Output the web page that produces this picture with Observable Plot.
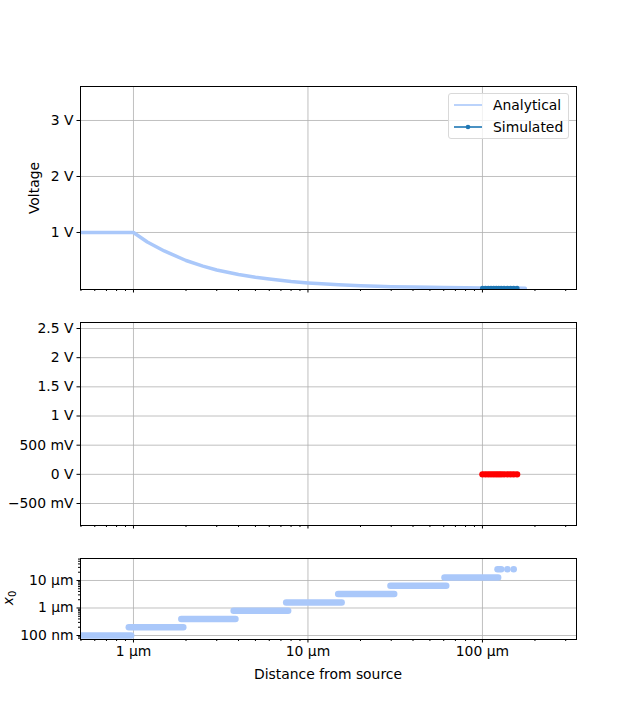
<!DOCTYPE html>
<html>
<head>
<meta charset="utf-8">
<script src="https://cdn.jsdelivr.net/npm/d3@7"></script>
<script src="https://cdn.jsdelivr.net/npm/@observablehq/plot@0.6"></script>
<style>
  body { margin: 0; background: white; }
  #root { position: relative; width: 640px; height: 718px; overflow: hidden; font-family: "DejaVu Sans", sans-serif; font-size: 13.9px; color: black; }
  .panel { position: absolute; left: 0; }
  .lbl { position: absolute; white-space: nowrap; font-size: 13.9px; }
</style>
</head>
<body>
<div id="root"></div>
<script>
// ---- data (x in µm) ----
const analyticX = [0.5, 0.6, 0.8, 1.0, 1.2, 1.5, 2, 2.5, 3, 4, 5, 6, 8, 10, 12, 15, 20, 25, 30, 40, 50, 60, 80, 100, 120, 150, 176];
const analyticV = [1, 1, 1, 1, 0.83, 0.67, 0.5, 0.4, 0.33, 0.25, 0.2, 0.17, 0.125, 0.1, 0.083, 0.067, 0.05, 0.04, 0.033, 0.025, 0.02, 0.017, 0.0125, 0.01, 0.008, 0.007, 0.006];
const simX = [100, 104, 108, 112, 116, 120, 124, 128, 133, 139, 145, 151, 158];
const simV = [0.003, 0.003, 0.003, 0.003, 0.003, 0.003, 0.003, 0.003, 0.003, 0.003, 0.003, 0.003, 0.003];
const errV = [0, 0, 0, 0, 0, 0, 0, 0, 0, 0, 0, 0, 0];
const stepStart = [0.45, 0.94, 1.88, 3.75, 7.5, 14.9, 29.7, 60.6, 122];
const stepEnd = [0.97, 1.93, 3.84, 7.7, 15.6, 31.2, 62, 123, 128];
const stepX0 = [0.1, 0.2, 0.4, 0.8, 1.6, 3.2, 6.4, 12.8, 25.6];
const lastX = [139, 151];
const lastX0 = [25.6, 25.6];

const xMajor = [1, 10, 100];
const xMajorLabels = ["1 µm", "10 µm", "100 µm"];
const xMinor = [0.5, 0.6, 0.7, 0.8, 0.9, 2, 3, 4, 5, 6, 7, 8, 9, 20, 30, 40, 50, 60, 70, 80, 90, 200, 300];
const v1Ticks = [1, 2, 3];
const v1Labels = ["1 V", "2 V", "3 V"];
const v2Ticks = [-0.5, 0, 0.5, 1, 1.5, 2, 2.5];
const v2Labels = ["\u2212500 mV", "0 V", "500 mV", "1 V", "1.5 V", "2 V", "2.5 V"];
const x0Ticks = [0.1, 1, 10];
const x0Labels = ["100 nm", "1 µm", "10 µm"];
const x0Minor = [0.08, 0.09, 0.2, 0.3, 0.4, 0.5, 0.6, 0.7, 0.8, 0.9, 2, 3, 4, 5, 6, 7, 8, 9, 20, 30, 40, 50, 60];

const analytic = analyticX.map((x, i) => ({x, v: analyticV[i]}));
const sim = simX.map((x, i) => ({x, v: simV[i]}));
const err = simX.map((x, i) => ({x, v: errV[i]}));
const steps = stepStart.map((s, i) => ({x1: s, x2: stepEnd[i], y: stepX0[i]}));
const lastPts = lastX.map((x, i) => ({x, y: lastX0[i]}));

const C_LIGHT = "#aac8fa", C_DARK = "#1f77b4", C_GRID = "#b0b0b0";
const xDomain = [0.497, 346];
const W = 640, ML = 80, MR = 64;
const root = document.getElementById("root");

function xAxes(withLabels) {
  return [
    Plot.axisX({ticks: xMinor, tickSize: 2, tickFormat: () => "", tickPadding: 0, label: null}),
    Plot.axisX({ticks: xMajor, tickSize: 3.5, tickPadding: 3.5, label: null,
      tickFormat: withLabels ? (d => xMajorLabels[xMajor.indexOf(d)]) : (() => ""), fontSize: 13.9})
  ];
}
function place(svg, top) {
  const wrap = document.createElement("div");
  wrap.className = "panel";
  wrap.style.top = top + "px";
  wrap.appendChild(svg);
  root.appendChild(wrap);
}
const common = {width: W, marginLeft: ML, marginRight: MR, style: {fontFamily: "DejaVu Sans, sans-serif", fontSize: "13.9px", overflow: "visible"}};

// ---- panel 1 ----
const p1 = Plot.plot({
  ...common, height: 310, marginTop: 86, marginBottom: 21,
  x: {type: "log", domain: xDomain, label: null},
  y: {domain: [-0.018, 3.607], label: null},
  marks: [
    Plot.gridX({ticks: xMajor, stroke: C_GRID, strokeOpacity: 1, strokeWidth: 0.8}),
    Plot.gridY({ticks: v1Ticks, stroke: C_GRID, strokeOpacity: 1, strokeWidth: 0.8}),
    Plot.line(analytic, {x: "x", y: "v", stroke: C_LIGHT, strokeWidth: 3.5, clip: true}),
    Plot.line(sim, {x: "x", y: "v", stroke: C_DARK, strokeWidth: 3.5, strokeLinecap: "round", clip: true}),
    Plot.dot(sim, {x: "x", y: "v", fill: C_DARK, r: 2.5, clip: true}),
    ...xAxes(false),
    Plot.axisY({ticks: v1Ticks, tickSize: 3.5, tickPadding: 3.5, label: null, tickFormat: d => v1Labels[v1Ticks.indexOf(d)], fontSize: 13.9}),
    Plot.frame({stroke: "black", strokeWidth: 1})
  ]
});
place(p1, 0);

// ---- panel 2 ----
const p2 = Plot.plot({
  ...common, height: 236, marginTop: 12, marginBottom: 21,
  x: {type: "log", domain: xDomain, label: null},
  y: {domain: [-0.877, 2.603], label: null},
  marks: [
    Plot.gridX({ticks: xMajor, stroke: C_GRID, strokeOpacity: 1, strokeWidth: 0.8}),
    Plot.gridY({ticks: v2Ticks, stroke: C_GRID, strokeOpacity: 1, strokeWidth: 0.8}),
    Plot.line(err, {x: "x", y: "v", stroke: "red", strokeWidth: 5, strokeLinecap: "round", clip: true}),
    Plot.dot(err, {x: "x", y: "v", fill: "red", r: 3.2, clip: true}),
    ...xAxes(false),
    Plot.axisY({ticks: v2Ticks, tickSize: 3.5, tickPadding: 3.5, label: null, tickFormat: d => v2Labels[v2Ticks.indexOf(d)], fontSize: 13.9}),
    Plot.frame({stroke: "black", strokeWidth: 1})
  ]
});
place(p2, 310);

// ---- panel 3 ----
const p3 = Plot.plot({
  ...common, height: 172, marginTop: 12, marginBottom: 79,
  x: {type: "log", domain: xDomain, label: null},
  y: {type: "log", domain: [0.0716, 63], label: null},
  marks: [
    Plot.gridX({ticks: xMajor, stroke: C_GRID, strokeOpacity: 1, strokeWidth: 0.8}),
    Plot.gridY({ticks: x0Ticks, stroke: C_GRID, strokeOpacity: 1, strokeWidth: 0.8}),
    Plot.link(steps, {x1: "x1", x2: "x2", y1: "y", y2: "y", stroke: C_LIGHT, strokeWidth: 6.5, strokeLinecap: "round", strokeOpacity: 1, clip: true}),
    Plot.dot(lastPts, {x: "x", y: "y", fill: C_LIGHT, r: 3.3, clip: true}),
    ...xAxes(true),
    Plot.axisY({ticks: x0Minor, tickSize: 2, tickFormat: () => "", tickPadding: 0, label: null}),
    Plot.axisY({ticks: x0Ticks, tickSize: 3.5, tickPadding: 3.5, label: null, tickFormat: d => x0Labels[x0Ticks.indexOf(d)], fontSize: 13.9}),
    Plot.frame({stroke: "black", strokeWidth: 1})
  ]
});
place(p3, 546);

// ---- labels ----
function label(text, css) {
  const d = document.createElement("div");
  d.className = "lbl";
  d.textContent = text;
  Object.assign(d.style, css);
  root.appendChild(d);
  return d;
}
label("Distance from source", {left: "0px", width: "656px", textAlign: "center", top: "666px"});
label("Voltage", {left: "34px", top: "188px", transform: "translate(-50%,-50%) rotate(-90deg)"});
const x0 = document.createElement("div");
x0.className = "lbl";
x0.innerHTML = '<i>x</i><sub style="font-size:10px">0</sub>';
Object.assign(x0.style, {left: "9px", top: "598px", transform: "translate(-50%,-50%) rotate(-90deg)"});
root.appendChild(x0);

// ---- legend ----
const leg = document.createElement("div");
Object.assign(leg.style, {position: "absolute", left: "448px", top: "93px", width: "119px", height: "44px",
  border: "1px solid #d9d9d9", borderRadius: "3px", background: "rgba(255,255,255,0.8)"});
leg.innerHTML = `
<svg width="119" height="44" style="position:absolute;left:0;top:0">
  <line x1="5" x2="33" y1="11" y2="11" stroke="${C_LIGHT}" stroke-width="1.6"/>
  <line x1="5" x2="33" y1="33" y2="33" stroke="${C_DARK}" stroke-width="1.6"/>
  <circle cx="19" cy="33" r="2.3" fill="${C_DARK}"/>
  <text x="44" y="16" font-family="DejaVu Sans, sans-serif" font-size="13.9">Analytical</text>
  <text x="44" y="38" font-family="DejaVu Sans, sans-serif" font-size="13.9">Simulated</text>
</svg>`;
root.appendChild(leg);
</script>
</body>
</html>
